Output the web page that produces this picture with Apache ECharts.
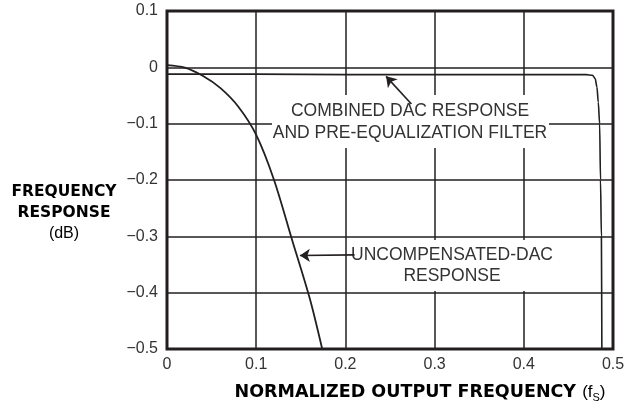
<!DOCTYPE html>
<html>
<head>
<meta charset="utf-8">
<script src="https://cdn.jsdelivr.net/npm/echarts@6/dist/echarts.min.js"></script>
<style>html,body{margin:0;padding:0;background:#fff;}#c{width:638px;height:407px;}</style>
</head>
<body>
<div id="c"></div>
<script>
// ---- data ----
var xTickLabels = ['0', '0.1', '0.2', '0.3', '0.4', '0.5'];
var yTickLabels = ['\u22120.5', '\u22120.4', '\u22120.3', '\u22120.2', '\u22120.1', '0', '0.1'];
var yTickValues = [-0.5, -0.4, -0.3, -0.2, -0.1, 0, 0.1];

var uncompFreq = [0, 0.02, 0.04, 0.06, 0.08, 0.1, 0.12, 0.14, 0.16, 0.174];
var uncompResp = [0.004, -0.0005, -0.015, -0.037, -0.07, -0.12, -0.2, -0.305, -0.41, -0.5];

var combFreq = [0, 0.1, 0.2, 0.3, 0.4, 0.47, 0.477, 0.48, 0.482, 0.4835, 0.485, 0.486, 0.487, 0.4875];
var combResp = [-0.012, -0.012, -0.013, -0.013, -0.013, -0.013, -0.014, -0.02, -0.035, -0.062, -0.1, -0.2, -0.3, -0.5];

// annotation arrows (data coordinates): [from, to]
var arrowCombined = [[0.274, -0.065], [0.2456, -0.016]];
var arrowUncomp = [[0.2103, -0.333], [0.149, -0.334]];

function zip(a, b) { return a.map(function (v, i) { return [v, b[i]]; }); }

var ink = '#231f20';
var txt = '#333';
var chart = echarts.init(document.getElementById('c'), null, {renderer: 'canvas'});
chart.setOption({
  animation: false,
  backgroundColor: '#fff',
  grid: {left: 167, right: 25, top: 11, bottom: 58, show: true, borderColor: ink, borderWidth: 3, backgroundColor: 'transparent'},
  xAxis: {
    type: 'value', min: 0, max: 0.5, interval: 0.1,
    axisLine: {show: false}, axisTick: {show: false},
    splitLine: {show: true, lineStyle: {color: ink, width: 1.5}},
    axisLabel: {
      margin: 8, fontSize: 16, color: txt, fontFamily: 'Liberation Sans',
      formatter: function (v) { return xTickLabels[Math.round(v * 10)]; }
    }
  },
  yAxis: {
    type: 'value', min: -0.5, max: 0.1, interval: 0.1,
    axisLine: {show: false}, axisTick: {show: false},
    splitLine: {show: true, lineStyle: {color: ink, width: 1.5}},
    axisLabel: {
      margin: 9, fontSize: 16, color: txt, fontFamily: 'Liberation Sans', padding: [0, 0, 6, 0],
      formatter: function (v) {
        for (var i = 0; i < yTickValues.length; i++) if (Math.abs(yTickValues[i] - v) < 1e-6) return yTickLabels[i];
        return '';
      }
    }
  },
  series: [
    {
      type: 'line', name: 'uncompensated', data: zip(uncompFreq, uncompResp),
      smooth: 0.3, symbol: 'none', z: 3,
      lineStyle: {color: ink, width: 1.8},
      markLine: {
        silent: true, symbol: ['none', 'arrow'], symbolSize: 10,
        label: {show: false},
        lineStyle: {color: ink, width: 1.6, type: 'solid'},
        data: [
          [{coord: arrowCombined[0]}, {coord: arrowCombined[1]}],
          [{coord: arrowUncomp[0]}, {coord: arrowUncomp[1]}]
        ]
      }
    },
    {
      type: 'line', name: 'combined', data: zip(combFreq, combResp),
      smooth: 0.3, smoothMonotone: 'x', symbol: 'none', z: 3,
      lineStyle: {color: ink, width: 1.6}
    }
  ],
  graphic: [
    {type: 'rect', z: 3, shape: {x: 272, y: 95, width: 277, height: 53}, style: {fill: '#fff'}},
    {type: 'text', z: 4, x: 410, y: 122, style: {
      text: 'COMBINED DAC RESPONSE\nAND PRE-EQUALIZATION FILTER',
      font: '17.5px "Liberation Sans"', fill: txt, lineHeight: 22,
      textAlign: 'center', textVerticalAlign: 'middle'}},
    {type: 'rect', z: 3, shape: {x: 353, y: 240, width: 203, height: 51}, style: {fill: '#fff'}},
    {type: 'text', z: 4, x: 452, y: 266, style: {
      text: 'UNCOMPENSATED-DAC\nRESPONSE',
      font: '17.5px "Liberation Sans"', fill: txt, lineHeight: 21,
      textAlign: 'center', textVerticalAlign: 'middle'}},
    {type: 'text', z: 4, x: 64, y: 213, style: {
      text: '{b|FREQUENCY}\n{b|RESPONSE}\n{r|(dB)}',
      textAlign: 'center', textVerticalAlign: 'middle',
      rich: {
        b: {fontFamily: 'DejaVu Sans', fontWeight: 'bold', fontSize: 15.5, color: txt, lineHeight: 21},
        r: {fontFamily: 'Liberation Sans', fontSize: 16, color: txt, lineHeight: 21}
      }}},
    {type: 'text', z: 4, x: 420, y: 392, style: {
      text: '{b|NORMALIZED OUTPUT FREQUENCY }{r|(f}{s|S}{r|)}',
      textAlign: 'center', textVerticalAlign: 'middle',
      rich: {
        b: {fontFamily: 'DejaVu Sans', fontWeight: 'bold', fontSize: 17.5, color: txt, lineHeight: 22},
        r: {fontFamily: 'Liberation Sans', fontSize: 17, color: txt, lineHeight: 22},
        s: {fontFamily: 'Liberation Sans', fontSize: 11, color: txt, lineHeight: 12, verticalAlign: 'bottom'}
      }}}
  ]
});
</script>
</body>
</html>
